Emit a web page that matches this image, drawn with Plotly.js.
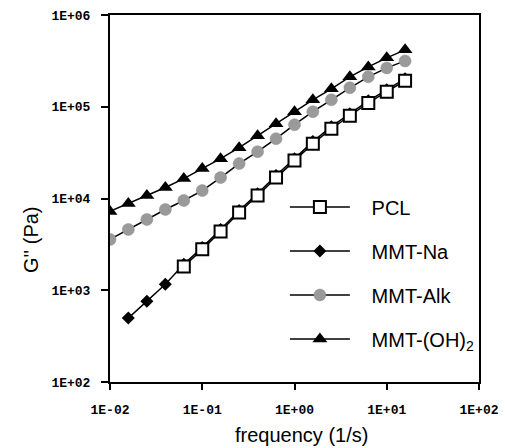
<!DOCTYPE html>
<html>
<head>
<meta charset="utf-8">
<script src="https://cdn.plot.ly/plotly-3.0.1.min.js"></script>
<style>html,body{margin:0;padding:0;background:#fff;}#chart{width:505px;height:448px;}</style>
</head>
<body>
<div id="chart"></div>
<script>
// frequency (1/s)
const freqAll = [0.01, 0.0158, 0.0251, 0.0398, 0.0631, 0.1, 0.158, 0.251, 0.398, 0.631, 1, 1.58, 2.51, 3.98, 6.31, 10, 15.8];
const freqNa  = [0.0158, 0.0251, 0.0398, 0.0631, 0.1, 0.158, 0.251, 0.398, 0.631, 1, 1.58, 2.51, 3.98, 6.31, 10, 15.8];
const freqPCL = [0.0631, 0.1, 0.158, 0.251, 0.398, 0.631, 1, 1.58, 2.51, 3.98, 6.31, 10, 15.8];
// G'' (Pa)
const gPCL = [1820, 2790, 4380, 7040, 10800, 16900, 25900, 39600, 57600, 79800, 110000, 146000, 192000];
const gNa  = [497, 759, 1160, 1920, 2930, 4600, 7410, 11300, 17800, 27200, 41700, 60600, 84000, 116000, 153000, 202000];
const gAlk = [3580, 4600, 5910, 7590, 9510, 12200, 16900, 24000, 32400, 44900, 63700, 88300, 119000, 161000, 212000, 265000, 316000];
const gOH  = [7230, 8830, 10790, 13180, 16500, 21200, 27200, 35800, 48400, 65300, 88300, 119000, 157000, 212000, 272000, 341000, 417000];
const xTickVals = [0.01, 0.1, 1, 10, 100];
const xTickText = ['1E-02', '1E-01', '1E+00', '1E+01', '1E+02'];
const yTickVals = [100, 1000, 10000, 100000, 1000000];
const yTickText = ['1E+02', '1E+03', '1E+04', '1E+05', '1E+06'];
const names = ['PCL', 'MMT-Na', 'MMT-Alk', 'MMT-(OH)<sub>2</sub>'];
const xTitle = 'frequency (1/s)';
const yTitle = "G'' (Pa)";

const pad = '\u00a0\u00a0\u00a0';
const line = {color: '#000', width: 1.5};
const traces = [
  {x: freqAll, y: gOH, name: pad + names[3], legendgroup: 'd', legendrank: 4, mode: 'lines+markers', line: line,
   marker: {symbol: 'triangle-up', size: 13, color: '#000'}},
  {x: freqAll, y: gAlk, name: pad + names[2], legendgroup: 'c', legendrank: 3, mode: 'lines+markers', line: line,
   marker: {symbol: 'circle', size: 12, color: '#9a9a9a', line: {color: '#8a8a8a', width: 0.5}}},
  {x: freqNa, y: gNa, name: pad + names[1], legendgroup: 'b', legendrank: 2, mode: 'lines+markers', line: line,
   marker: {symbol: 'diamond', size: 10, color: '#000'}},
  {x: freqPCL, y: gPCL, name: pad + names[0], legendgroup: 'a', legendrank: 1, mode: 'lines+markers', line: line,
   marker: {symbol: 'square', size: 12, color: '#fff', line: {color: '#000', width: 2}}}
];

const tickFont = {family: 'Liberation Mono', size: 13, color: '#000', weight: 'bold'};
const titleFont = {family: 'Liberation Sans', size: 20, color: '#000'};
const layout = {
  width: 505, height: 448,
  margin: {l: 110, r: 26, t: 15, b: 66},
  paper_bgcolor: '#fff', plot_bgcolor: '#fff',
  showlegend: true,
  legend: {x: 0.474, y: 0.53, xanchor: 'left', yanchor: 'top', bgcolor: 'rgba(0,0,0,0)',
           traceorder: 'grouped', tracegroupgap: 15, itemwidth: 60,
           font: {family: 'Liberation Sans', size: 20, color: '#000'}},
  xaxis: {type: 'log', range: [-2, 2], tickvals: xTickVals, ticktext: xTickText,
          showline: true, mirror: true, linecolor: '#000', linewidth: 2,
          ticks: 'outside', ticklen: 6, tickwidth: 2, tickcolor: '#000', ticklabelstandoff: 8,
          showgrid: false, zeroline: false, tickfont: tickFont},
  yaxis: {type: 'log', range: [2, 6], tickvals: yTickVals, ticktext: yTickText,
          showline: true, mirror: true, linecolor: '#000', linewidth: 2,
          ticks: 'outside', ticklen: 7, tickwidth: 2, tickcolor: '#000', ticklabelstandoff: 8,
          showgrid: false, zeroline: false, tickfont: tickFont},
  annotations: [
    {text: xTitle, xref: 'paper', yref: 'paper', x: 0.518, y: -0.144, xanchor: 'center', yanchor: 'middle',
     showarrow: false, font: titleFont},
    {text: yTitle, xref: 'paper', yref: 'paper', x: -0.214, y: 0.387, xanchor: 'center', yanchor: 'middle',
     textangle: -90, showarrow: false, font: titleFont}
  ]
};
Plotly.newPlot('chart', traces, layout, {displayModeBar: false, staticPlot: true});
</script>
</body>
</html>
